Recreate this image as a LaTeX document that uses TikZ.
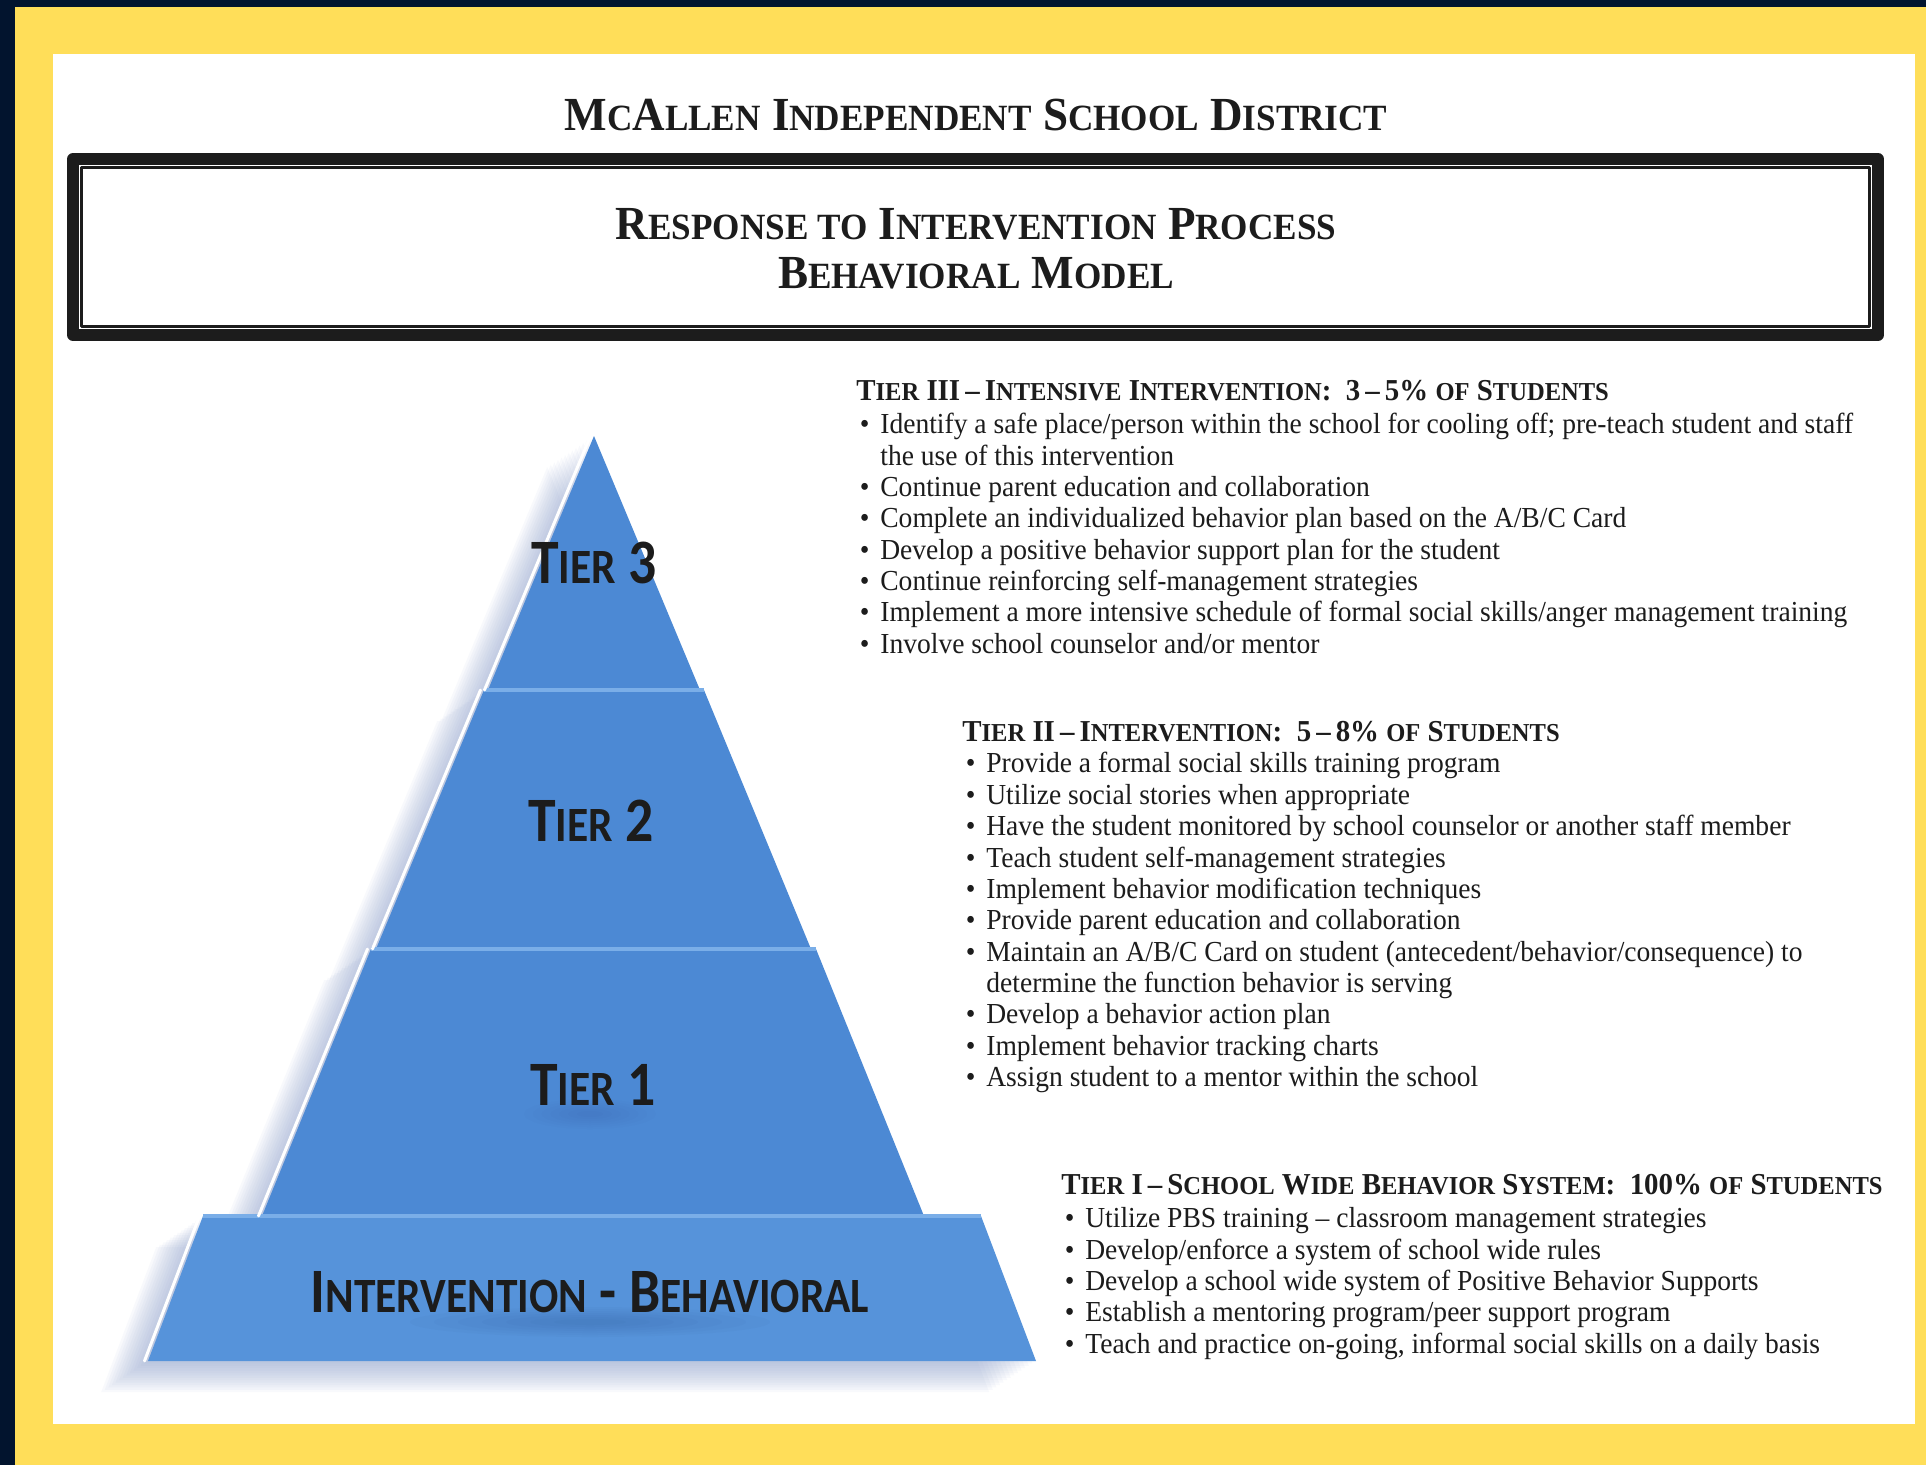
\documentclass[tikz,border=0pt]{standalone}
\usepackage{fontspec}
\setmainfont{Liberation Serif}[FakeStretch=0.95]
\newfontfamily\pyrfont{Carlito}[FakeStretch=0.88]

\definecolor{navy}{RGB}{2,20,46}
\definecolor{gold}{RGB}{255,222,89}
\definecolor{pyrblue}{RGB}{76,137,212}
\definecolor{baseblue}{RGB}{86,147,218}
\definecolor{stepblue}{RGB}{122,174,232}
\definecolor{haze}{RGB}{140,160,205}
\definecolor{smudge}{RGB}{40,70,120}
\definecolor{ink}{RGB}{28,28,28}

% small capitals built by hand
\newdimen\scdim
\def\scratio{0.78}
\makeatletter
\newcommand\smcap[1]{{\scdim=\f@size pt\scdim=\scratio\scdim
  \fontsize{\strip@pt\scdim}{\strip@pt\scdim}\selectfont#1}}
\makeatother
\newcommand\bl{\makebox[4.8mm][l]{\hspace{0.7mm}\textbullet}}
\newcommand\cont{\hspace*{4.8mm}}
\newcommand\tierhead[1]{{\fontsize{17.3}{17.85}\selectfont\def\scratio{0.85}\bfseries#1}}

\begin{document}
\begin{tikzpicture}[x=0.2mm,y=-0.2mm,line join=round,
  headtitle/.style={font=\fontsize{27}{30}\selectfont\bfseries,text=ink,inner sep=0pt},
  tiertext/.style={anchor=north west,align=left,inner sep=0pt,text=ink,
    font=\fontsize{16.5}{17.85}\selectfont},
  pyrlabel/.style={font=\pyrfont\bfseries\fontsize{36}{40}\selectfont,text=ink,inner sep=0pt},
  tier/.style={fill=pyrblue},
  rim/.style={white,line width=0.6mm,line cap=round},
  stepline/.style={stepblue,line width=0.8mm},
  pyroutline/.style={insert path={(594,436) -- (700,690) -- (704,690) -- (811,949) -- (816,949)
    -- (924,1216) -- (981,1216) -- (1036,1361) -- (148,1361) -- (203,1216) -- (262,1216)
    -- (371,949) -- (376,949) -- (484,690) -- (488,690) -- cycle}}]
  \useasboundingbox (0,0) rectangle (1926,1465);
  \fill[navy] (0,0) rectangle (1926,1465);
  \fill[gold] (15,7) rectangle (1926,1465);
  \fill[white] (53,54) rectangle (1915,1424);

  \node[headtitle] (district) at (976,115) {M\smcap{C}A\smcap{LLEN} I\smcap{NDEPENDENT} S\smcap{CHOOL} D\smcap{ISTRICT}};
  \draw[ink,line width=2.4mm] (73,159) rectangle (1878,335);
  \draw[ink,line width=0.6mm] (81.5,167.5) rectangle (1869.5,326.5);
  \node[headtitle] (rti) at (976,224) {R\smcap{ESPONSE TO} I\smcap{NTERVENTION} P\smcap{ROCESS}};
  \node[headtitle] (model) at (976,273) {B\smcap{EHAVIORAL} M\smcap{ODEL}};

  \coordinate (apex) at (594,436);
  \coordinate (t3l) at (488,690);
  \coordinate (t3r) at (700,690);
  \coordinate (t2tl) at (484,690);
  \coordinate (t2tr) at (704,690);
  \coordinate (t2bl) at (376,949);
  \coordinate (t2br) at (811,949);
  \coordinate (t1tl) at (371,949);
  \coordinate (t1tr) at (816,949);
  \coordinate (t1bl) at (262,1216);
  \coordinate (t1br) at (924,1216);
  \coordinate (btl) at (203,1216);
  \coordinate (btr) at (981,1216);
  \coordinate (bbl) at (148,1361);
  \coordinate (bbr) at (1036,1361);

  % soft shadow behind the pyramid
  \foreach \s in {3,6,...,39}
    \fill[haze,opacity=.06,shift={(-1.2*\s,0.8*\s)},pyroutline];

  \fill[tier] (apex) -- (t3r) -- (t3l) -- cycle;
  \fill[tier] (t2tl) -- (t2tr) -- (t2br) -- (t2bl) -- cycle;
  \fill[tier] (t1tl) -- (t1tr) -- (t1br) -- (t1bl) -- cycle;
  \fill[baseblue] (btl) -- (btr) -- (bbr) -- (bbl) -- cycle;
  \draw[stepline] (t2tl) -- (t2tr) (t1tl) -- (t1tr) (btl) -- (btr);
  \draw[rim] ([xshift=-2]apex) -- ([xshift=-2]t3l) ([xshift=-2]t2tl) -- ([xshift=-2]t2bl)
    ([xshift=-2]t1tl) -- ([xshift=-2]t1bl) ([xshift=-2]btl) -- ([xshift=-2]bbl);

  % blurred reflections under the labels
  \foreach \r in {6,10,...,30} {
    \fill[smudge,opacity=.03] (590,1322) ellipse ({6*\r} and {0.5*\r});
    \fill[smudge,opacity=.018] (590,1114) ellipse ({2.2*\r} and {0.5*\r});
  }

  \node[pyrlabel] (tier3) at (594,563) {T\smcap{IER} 3};
  \node[pyrlabel] (tier2) at (591,821) {T\smcap{IER} 2};
  \node[pyrlabel] (tier1) at (593,1085) {T\smcap{IER} 1};
  \node[pyrlabel] (basetier) at (590,1292) {I\smcap{NTERVENTION} - B\smcap{EHAVIORAL}};

  \node[tiertext] (t3text) at (856,380) {%
    \tierhead{T\smcap{IER} III\,–\,I\smcap{NTENSIVE} I\smcap{NTERVENTION}:\ \ 3\,–\,5\% \smcap{OF} S\smcap{TUDENTS}}\\[1pt]
    \bl Identify a safe place/person within the school for cooling off; pre-teach student and staff\\
    \cont the use of this intervention\\
    \bl Continue parent education and collaboration\\
    \bl Complete an individualized behavior plan based on the A/B/C Card\\
    \bl Develop a positive behavior support plan for the student\\
    \bl Continue reinforcing self-management strategies\\
    \bl Implement a more intensive schedule of formal social skills/anger management training\\
    \bl Involve school counselor and/or mentor};

  \node[tiertext] (t2text) at (962,721) {%
    \tierhead{T\smcap{IER} II\,–\,I\smcap{NTERVENTION}:\ \ 5\,–\,8\% \smcap{OF} S\smcap{TUDENTS}}\\
    \bl Provide a formal social skills training program\\
    \bl Utilize social stories when appropriate\\
    \bl Have the student monitored by school counselor or another staff member\\
    \bl Teach student self-management strategies\\
    \bl Implement behavior modification techniques\\
    \bl Provide parent education and collaboration\\
    \bl Maintain an A/B/C Card on student (antecedent/behavior/consequence) to\\
    \cont determine the function behavior is serving\\
    \bl Develop a behavior action plan\\
    \bl Implement behavior tracking charts\\
    \bl Assign student to a mentor within the school};

  \node[tiertext] (t1text) at (1061,1174) {%
    \tierhead{T\smcap{IER} I\,–\,S\smcap{CHOOL} W\smcap{IDE} B\smcap{EHAVIOR} S\smcap{YSTEM}:\ \ 100\% \smcap{OF} S\smcap{TUDENTS}}\\[1pt]
    \bl Utilize PBS training – classroom management strategies\\
    \bl Develop/enforce a system of school wide rules\\
    \bl Develop a school wide system of Positive Behavior Supports\\
    \bl Establish a mentoring program/peer support program\\
    \bl Teach and practice on-going, informal social skills on a daily basis};
\end{tikzpicture}
\end{document}
